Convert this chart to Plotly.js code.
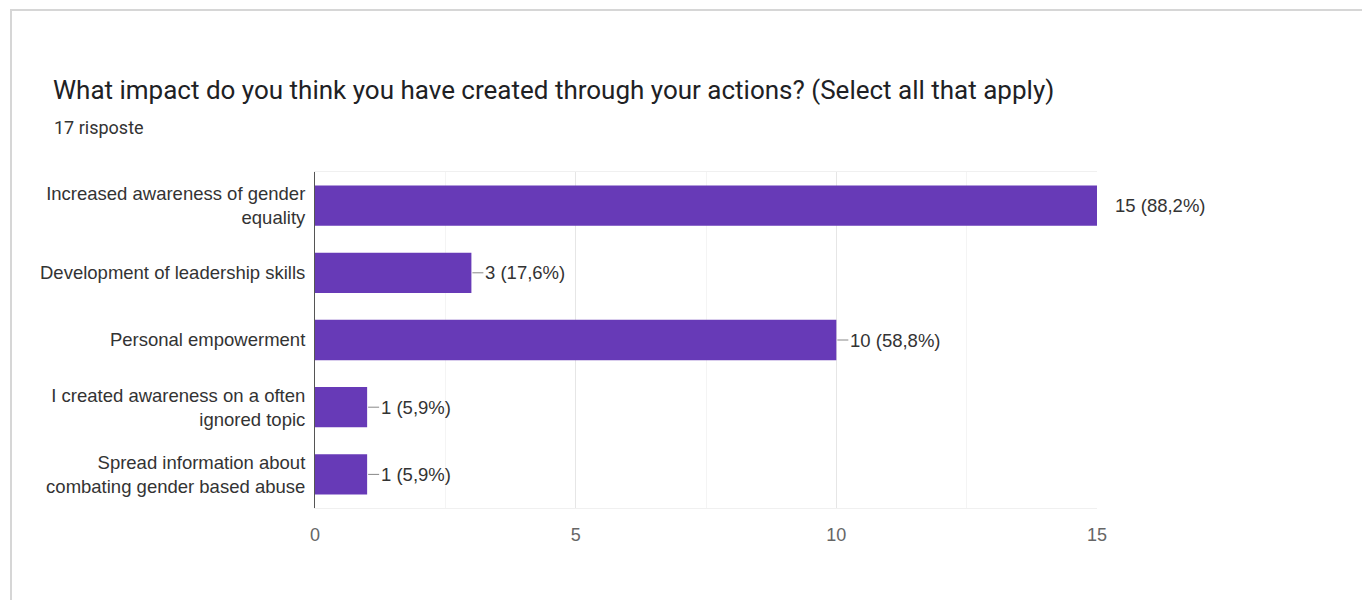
<!DOCTYPE html>
<html>
<head>
<meta charset="utf-8">
<script src="https://cdn.plot.ly/plotly-3.0.1.min.js"></script>
<style>
  html, body { margin: 0; padding: 0; background: #ffffff; }
  #card { position: absolute; left: 10px; top: 9px; width: 1360px; height: 600px;
          border-top: 2px solid #d6d6d6; border-left: 2px solid #d6d6d6; box-sizing: border-box; }
  #chart { position: absolute; left: 0; top: 0; width: 1362px; height: 600px; }
</style>
</head>
<body>
<div id="card"></div>
<div id="chart"></div>
<script>
const categories = [
  "Increased awareness of gender<br>equality",
  "Development of leadership skills",
  "Personal empowerment",
  "I created awareness on a often<br>ignored topic",
  "Spread information about<br>combating gender based abuse"
];
const counts = [15, 3, 10, 1, 1];
const percentLabels = ["88,2%", "17,6%", "58,8%", "5,9%", "5,9%"];
const xTickValues = [0, 5, 10, 15];
const titleText = "What impact do you think you have created through your actions? (Select all that apply)";
const subtitleText = "17 risposte";

const W = 1362, H = 600;
const marginL = 315, marginR = 265, marginT = 172, marginB = 92;
const plotW = W - marginL - marginR, plotH = H - marginT - marginB;

const labelFont = { family: "Liberation Sans, Arial, sans-serif", size: 18.5, color: "#333" };

const annotations = categories.map((c, i) => {
  const isMax = counts[i] === Math.max(...counts);
  return {
    x: counts[i], y: c, xref: "x", yref: "y",
    text: counts[i] + " (" + percentLabels[i] + ")",
    font: labelFont,
    xanchor: "left", yanchor: "middle",
    showarrow: !isMax,
    arrowhead: 0, arrowwidth: 1, arrowcolor: "#888",
    ax: 12, ay: 0, standoff: 1,
    xshift: isMax ? 16 : 0
  };
});

annotations.push({
  text: subtitleText,
  xref: "paper", yref: "paper",
  x: (52 - marginL) / plotW, y: 1 + (marginT - 127) / plotH,
  xanchor: "left", yanchor: "middle", showarrow: false,
  font: { family: "Roboto, sans-serif", size: 18, color: "#333" }
});

const trace = {
  type: "bar",
  orientation: "h",
  x: counts,
  y: categories,
  marker: { color: "#673ab7" },
  hoverinfo: "skip"
};

const layout = {
  width: W, height: H,
  margin: { l: marginL, r: marginR, t: marginT, b: marginB, pad: 0 },
  paper_bgcolor: "rgba(0,0,0,0)",
  plot_bgcolor: "rgba(0,0,0,0)",
  showlegend: false,
  bargap: 0.4,
  title: {
    text: titleText,
    xref: "container", yref: "container",
    x: 53 / W, xanchor: "left",
    y: 1 - 90 / H, yanchor: "middle",
    font: { family: "Roboto, sans-serif", size: 26, color: "#202124" }
  },
  xaxis: {
    range: [0, 15],
    tickvals: xTickValues,
    ticktext: xTickValues.map(String),
    showgrid: true, gridcolor: "#e6e6e6", gridwidth: 1,
    minor: { dtick: 2.5, showgrid: true, gridcolor: "#f4f4f4", gridwidth: 1 },
    zeroline: false,
    showline: true, linecolor: "#f0f0f0", mirror: true,
    ticks: "", ticklen: 0,
    tickfont: { family: "Liberation Sans, Arial, sans-serif", size: 18, color: "#666" },
    ticklabelstandoff: 10,
    fixedrange: true
  },
  yaxis: {
    autorange: "reversed",
    showgrid: false, zeroline: false,
    showline: true, linecolor: "#555", linewidth: 1,
    ticks: "", ticklabelstandoff: 5,
    tickfont: labelFont,
    fixedrange: true
  },
  annotations: annotations
};

Plotly.newPlot("chart", [trace], layout, { displayModeBar: false, staticPlot: true });
</script>
</body>
</html>
